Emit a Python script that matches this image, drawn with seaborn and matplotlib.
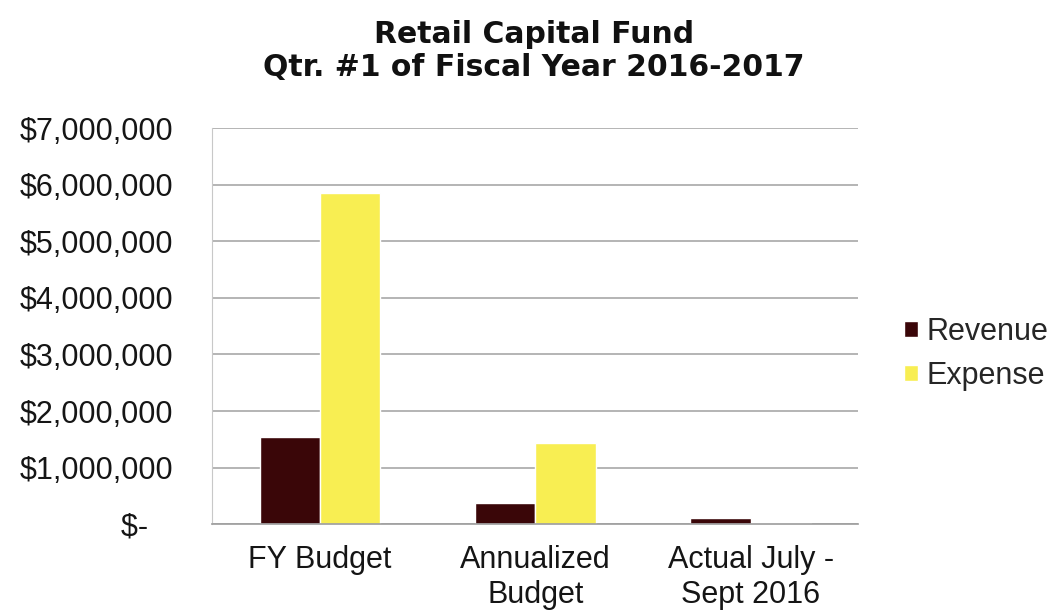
import matplotlib
matplotlib.use("Agg")
import matplotlib.pyplot as plt
import seaborn as sns
import pandas as pd
from matplotlib.ticker import FixedLocator, FixedFormatter

categories = ["FY Budget", "Annualized\nBudget", "Actual July -\nSept 2016"]
revenue = [1540000, 370000, 110000]
expense = [5850000, 1440000, 20000]
series_names = ["Revenue", "Expense"]
tick_values = [0, 1000000, 2000000, 3000000, 4000000, 5000000, 6000000, 7000000]
tick_labels = ["$-   ", "$1,000,000", "$2,000,000", "$3,000,000", "$4,000,000",
               "$5,000,000", "$6,000,000", "$7,000,000"]
title_lines = ["Retail Capital Fund", "Qtr. #1 of Fiscal Year 2016-2017"]

df = pd.DataFrame({
    "Category": categories * 2,
    "Series": [series_names[0]] * 3 + [series_names[1]] * 3,
    "Amount": revenue + expense,
})

sns.set_theme(style="white")
plt.rcParams["font.family"] = ["Liberation Sans", "DejaVu Sans"]

fig = plt.figure(figsize=(10.61, 6.16), dpi=100)
ax = fig.add_axes([0.2, 0.149, 0.609, 0.643])

palette = {"Revenue": "#3a0608", "Expense": "#f8ee52"}
sns.barplot(data=df, x="Category", y="Amount", hue="Series", palette=palette,
            width=0.56, saturation=1, ax=ax, legend=True)

ax.set_ylim(0, 7000000)
ax.set_xlim(-0.5, 2.5)
ax.yaxis.set_major_locator(FixedLocator(tick_values))
ax.yaxis.set_major_formatter(FixedFormatter(tick_labels))
ax.grid(axis="y", color="#a0a0a0", linewidth=1.1)
ax.set_axisbelow(True)
for side in ["top", "right"]:
    ax.spines[side].set_visible(False)
ax.spines["left"].set_color("#c8c8c8")
ax.spines["left"].set_linewidth(0.8)
ax.spines["bottom"].set_color("#a0a0a0")
ax.set_xlabel("")
ax.set_ylabel("")
ax.tick_params(axis="y", labelsize=22, pad=28, length=0, colors="#151515")
ax.tick_params(axis="x", labelsize=22, pad=15, length=0, colors="#151515")
for lbl in ax.get_xticklabels():
    lbl.set_linespacing(1.22)

handles, labels = ax.get_legend_handles_labels()
ax.legend(handles, labels, loc="center left", bbox_to_anchor=(1.028, 0.43),
          frameon=False, fontsize=22, handlelength=0.45, handleheight=0.45,
          handletextpad=0.3, labelspacing=0.45)

fig.text(0.503, 1 - 43 / 616, title_lines[0], ha="center", va="baseline",
         fontsize=21.5, fontweight="bold", color="#111111", family="DejaVu Sans")
fig.text(0.503, 1 - 76 / 616, title_lines[1], ha="center", va="baseline",
         fontsize=21.5, fontweight="bold", color="#111111", family="DejaVu Sans")

fig.savefig("out.png", dpi=100, facecolor="white")
